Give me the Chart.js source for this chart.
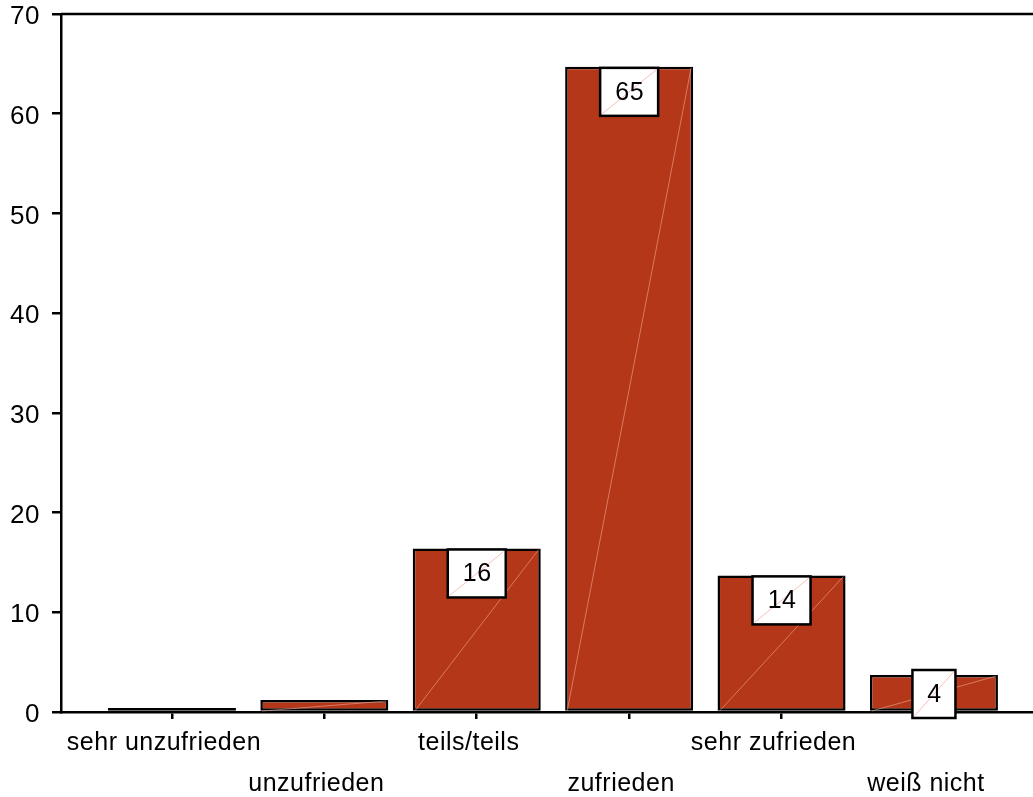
<!DOCTYPE html>
<html>
<head>
<meta charset="utf-8">
<script src="https://cdn.jsdelivr.net/npm/chart.js@4/dist/chart.umd.min.js"></script>
<style>
  html, body { margin: 0; padding: 0; background: #fff; }
  #wrap { width: 1033px; height: 797px; }
</style>
</head>
<body>
<div id="wrap"><canvas id="c" width="1033" height="797"></canvas></div>
<script>
const categories = ['sehr unzufrieden', 'unzufrieden', 'teils/teils', 'zufrieden', 'sehr zufrieden', 'weiß nicht'];
const values = [0.4, 1.2, 16.4, 64.7, 13.7, 3.7];
const valueLabels = ['', '', '16', '65', '14', '4'];
const yTicks = [0, 10, 20, 30, 40, 50, 60, 70];

const FONT = '"Liberation Sans", Arial, sans-serif';
const BAR_COLOR = '#B33718';
const LS = '0.5px';

const spacing = {
  id: 'spacing',
  beforeUpdate(chart) { chart.ctx.letterSpacing = LS; },
  beforeDraw(chart) { chart.ctx.letterSpacing = LS; }
};

const extras = {
  id: 'extras',
  afterDatasetsDraw(chart) {
    const ctx = chart.ctx;
    const area = chart.chartArea;
    const meta = chart.getDatasetMeta(0);
    const yScale = chart.scales.y;
    const base = yScale.getPixelForValue(0);
    ctx.save();
    meta.data.forEach((bar, i) => {
      if (values[i] < 0.5) return;
      const w = bar.width;
      ctx.beginPath();
      ctx.moveTo(bar.x - w / 2 + 2, base - 1);
      ctx.lineTo(bar.x + w / 2 - 2, bar.y + 1);
      ctx.strokeStyle = 'rgba(255,190,170,0.5)';
      ctx.lineWidth = 1;
      ctx.stroke();
    });
    ctx.font = '25px ' + FONT;
    ctx.letterSpacing = LS;
    meta.data.forEach((bar, i) => {
      const txt = valueLabels[i];
      if (!txt) return;
      const tw = ctx.measureText(txt).width;
      const bw = Math.round(tw + 29);
      const bh = 48;
      let top = bar.y + 1;
      if (top + bh > base + 6) top = base + 6 - bh;
      const left = bar.x - bw / 2;
      ctx.fillStyle = '#fff';
      ctx.fillRect(left, top, bw, bh);
      ctx.beginPath();
      ctx.moveTo(left + 2, top + bh - 2);
      ctx.lineTo(left + bw - 2, top + 2);
      ctx.strokeStyle = 'rgba(240,150,140,0.6)';
      ctx.lineWidth = 1;
      ctx.stroke();
      ctx.strokeStyle = '#000';
      ctx.lineWidth = 2.5;
      ctx.strokeRect(left, top, bw, bh);
      ctx.fillStyle = '#000';
      ctx.textAlign = 'center';
      ctx.textBaseline = 'middle';
      ctx.fillText(txt, bar.x + 0.5, top + bh / 2 + 1);
    });
    ctx.beginPath();
    ctx.moveTo(area.left, area.top);
    ctx.lineTo(chart.width, area.top);
    ctx.strokeStyle = '#000';
    ctx.lineWidth = 2.5;
    ctx.stroke();
    ctx.restore();
  }
};

new Chart(document.getElementById('c'), {
  type: 'bar',
  data: {
    datasets: [{
      data: values.map((v, i) => ({ x: i, y: v })),
      backgroundColor: BAR_COLOR,
      borderColor: '#000',
      borderWidth: 2.5,
      borderSkipped: false,
      barPercentage: 0.84,
      categoryPercentage: 1.0
    }]
  },
  options: {
    responsive: false,
    animation: false,
    devicePixelRatio: 1,
    layout: { padding: { left: 0, right: 0, top: 14, bottom: 0 } },
    plugins: { legend: { display: false }, tooltip: { enabled: false } },
    scales: {
      x: {
        type: 'linear',
        offset: false,
        min: -0.728,
        max: 5.65,
        afterBuildTicks(scale) {
          scale.ticks = categories.map((c, i) => ({ value: i }));
        },
        afterFit(scale) { scale.height = 85; scale.paddingLeft = 0; scale.paddingRight = 0; },
        ticks: {
          autoSkip: false,
          maxRotation: 0,
          minRotation: 0,
          color: '#000',
          padding: 4,
          labelOffset: -8,
          font: { family: FONT, size: 25, lineHeight: 1.64 },
          callback: (v) => {
            const i = Math.round(v);
            const lbl = categories[i];
            return i % 2 === 0 ? [lbl, ''] : ['', lbl];
          }
        },
        grid: { offset: false, drawOnChartArea: false, drawTicks: true, tickLength: 7, color: '#000', lineWidth: 2.5 },
        border: { display: true, color: '#000', width: 2.5 }
      },
      y: {
        min: 0,
        max: 70,
        afterBuildTicks(scale) {
          scale.ticks = yTicks.map(v => ({ value: v }));
        },
        afterFit(scale) { scale.width = 61; scale.paddingTop = 0; scale.paddingBottom = 0; },
        ticks: {
          color: '#000',
          padding: 12,
          labelOffset: 3,
          font: { family: FONT, size: 26 }
        },
        grid: { drawOnChartArea: false, drawTicks: true, tickLength: 9, color: '#000', lineWidth: 2.5 },
        border: { display: true, color: '#000', width: 2.5 }
      }
    }
  },
  plugins: [spacing, extras]
});
</script>
</body>
</html>
